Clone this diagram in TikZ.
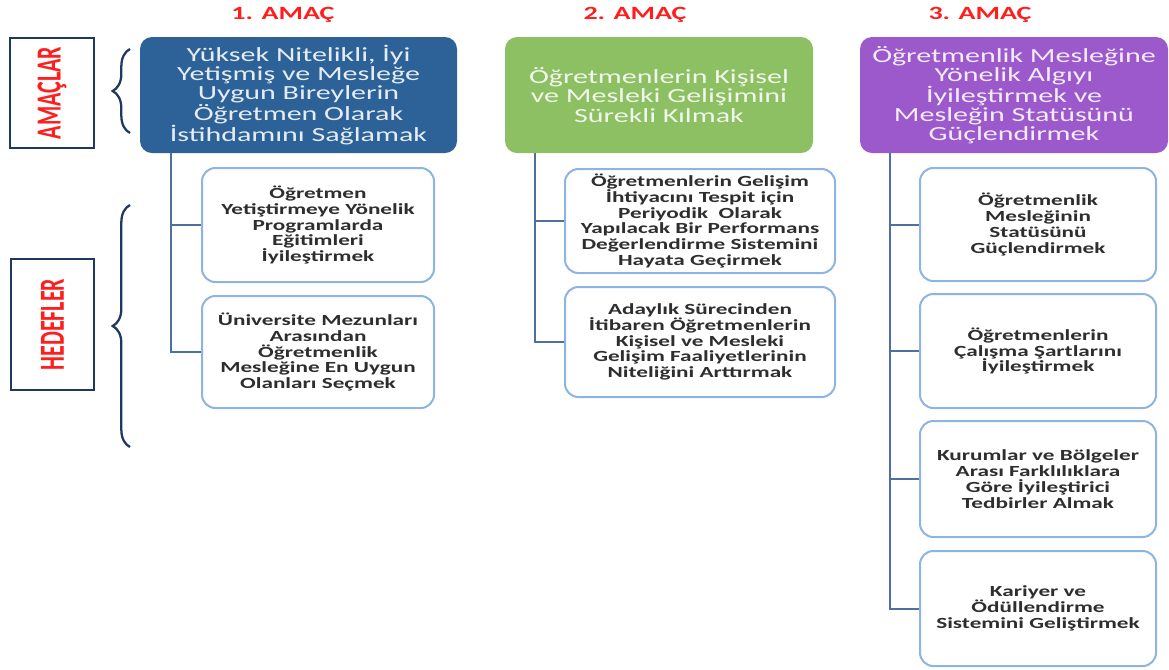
\documentclass[tikz,border=0pt]{standalone}
\usepackage{fontspec}
\setmainfont{Carlito}[FakeStretch=1.5]
\newfontfamily\lblfont{Carlito}
\usetikzlibrary{decorations.pathreplacing}
\definecolor{amacblue}{RGB}{44,98,152}
\definecolor{amacgreen}{RGB}{141,192,98}
\definecolor{amacpurple}{RGB}{155,89,204}
\definecolor{hedefline}{RGB}{141,180,226}
\definecolor{trunkline}{RGB}{79,111,163}
\definecolor{lblnavy}{RGB}{31,56,96}
\definecolor{titlered}{RGB}{255,30,30}
\tikzset{
  amac/.style={rounded corners=9pt, minimum height=87pt, align=center, inner sep=2pt, font=\fontsize{15}{14.3}\selectfont},
  hedef/.style={draw=hedefline, line width=1.5pt, fill=white, rounded corners=10pt, align=center, inner sep=2pt, text=black!82, font=\bfseries\fontsize{11.6}{11.9}\selectfont},
  trunk/.style={draw=trunkline, line width=1.5pt},
  baslik/.style={text=titlered, font=\bfseries\fontsize{14}{16}\selectfont},
  etiket/.style={draw=lblnavy, line width=2.2pt, rotate=90, text=titlered, font=\lblfont\bfseries\fontsize{16.5}{18}\selectfont},
  kivrik/.style={draw=lblnavy, line width=1.7pt, decorate, decoration={brace, amplitude=13pt}}
}
\begin{document}
\begin{tikzpicture}[x=0.75pt,y=-0.75pt]
\useasboundingbox (0,0) rectangle (1169,669);
\node[baslik] (t1) at (283,15) {1. AMAÇ};
\node[baslik] (t2) at (635,15) {2. AMAÇ};
\node[baslik] (t3) at (980,15) {3. AMAÇ};
\node[etiket, minimum width=82.5pt, minimum height=63pt] (amaclar) at (52,93) {\scalebox{1}[1.6]{AMAÇLAR}};
\node[etiket, minimum width=98.25pt, minimum height=62.25pt] (hedefler) at (52.5,324.5) {\scalebox{1}[1.6]{HEDEFLER}};
\draw[kivrik] (130,133) -- (130,49);
\draw[kivrik] (130,447) -- (130,205);
\node[amac, fill=amacblue, text=white!88!amacblue, minimum width=237.75pt] (amac1) at (298.5,95) {Yüksek Nitelikli, İyi\\Yetişmiş ve Mesleğe\\Uygun Bireylerin\\Öğretmen Olarak\\İstihdamını Sağlamak};
\node[amac, fill=amacgreen, text=white!88!amacgreen, minimum width=231pt] (amac2) at (659,95) {Öğretmenlerin Kişisel\\ve Mesleki Gelişimini\\Sürekli Kılmak};
\node[amac, fill=amacpurple, text=white!88!amacpurple, minimum width=231pt] (amac3) at (1014,95) {Öğretmenlik Mesleğine\\Yönelik Algıyı\\İyileştirmek ve\\Mesleğin Statüsünü\\Güçlendirmek};
\node[hedef, minimum width=174pt, minimum height=85.5pt] (h11) at (318,225) {Öğretmen\\Yetiştirmeye Yönelik\\Programlarda\\Eğitimleri\\İyileştirmek};
\node[hedef, minimum width=174pt, minimum height=84pt] (h12) at (318,352) {Üniversite Mezunları\\Arasından\\Öğretmenlik\\Mesleğine En Uygun\\Olanları Seçmek};
\node[hedef, minimum width=202.5pt, minimum height=78pt] (h21) at (700,221) {Öğretmenlerin Gelişim\\İhtiyacını Tespit için\\Periyodik\ \ Olarak\\Yapılacak Bir Performans\\Değerlendirme Sistemini\\Hayata Geçirmek};
\node[hedef, minimum width=202.5pt, minimum height=82.5pt] (h22) at (700,342) {Adaylık Sürecinden\\İtibaren Öğretmenlerin\\Kişisel ve Mesleki\\Gelişim Faaliyetlerinin\\Niteliğini Arttırmak};
\node[hedef, minimum width=177pt, minimum height=84.75pt] (h31) at (1038,224.5) {Öğretmenlik\\Mesleğinin\\Statüsünü\\Güçlendirmek};
\node[hedef, minimum width=177pt, minimum height=85.5pt] (h32) at (1038,351) {Öğretmenlerin\\Çalışma Şartlarını\\İyileştirmek};
\node[hedef, minimum width=177pt, minimum height=87pt] (h33) at (1038,479) {Kurumlar ve Bölgeler\\Arası Farklılıklara\\Göre İyileştirici\\Tedbirler Almak};
\node[hedef, minimum width=177pt, minimum height=86.25pt] (h34) at (1038,608.5) {Kariyer ve\\Ödüllendirme\\Sistemini Geliştirmek};
\draw[trunk] (amac1.south west) ++(31,0) |- (h11.west);
\draw[trunk] (amac1.south west) ++(31,0) |- (h12.west);
\draw[trunk] (amac2.south west) ++(30,0) |- (h21.west);
\draw[trunk] (amac2.south west) ++(30,0) |- (h22.west);
\draw[trunk] (amac3.south west) ++(30,0) |- (h31.west);
\draw[trunk] (amac3.south west) ++(30,0) |- (h32.west);
\draw[trunk] (amac3.south west) ++(30,0) |- (h33.west);
\draw[trunk] (amac3.south west) ++(30,0) |- (h34.west);
\end{tikzpicture}
\end{document}
